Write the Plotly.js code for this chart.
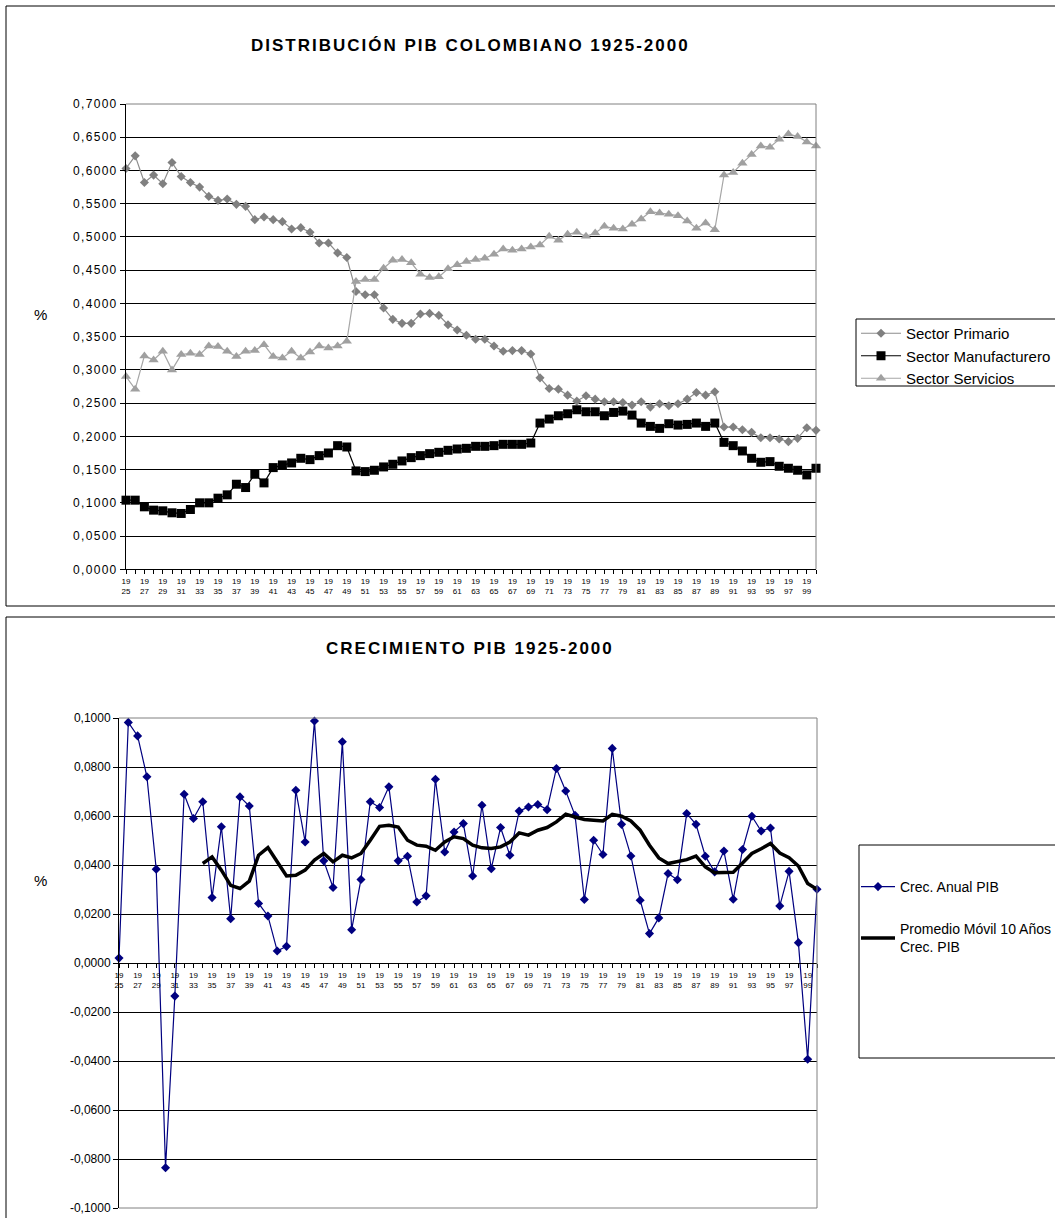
<!DOCTYPE html>
<html><head><meta charset="utf-8">
<script src="https://cdn.plot.ly/plotly-3.0.1.min.js"></script>
<style>
body{margin:0;padding:0;background:#fff;overflow:hidden}
#chart{width:1055px;height:1218px;overflow:hidden}
.ytick text{letter-spacing:1.3px}
</style></head><body><div id="chart"></div>
<script>
const years = [1925,1926,1927,1928,1929,1930,1931,1932,1933,1934,1935,1936,1937,1938,1939,1940,1941,1942,1943,1944,1945,1946,1947,1948,1949,1950,1951,1952,1953,1954,1955,1956,1957,1958,1959,1960,1961,1962,1963,1964,1965,1966,1967,1968,1969,1970,1971,1972,1973,1974,1975,1976,1977,1978,1979,1980,1981,1982,1983,1984,1985,1986,1987,1988,1989,1990,1991,1992,1993,1994,1995,1996,1997,1998,1999,2000];

const sectorPrimario = [0.603,0.622,0.582,0.593,0.580,0.612,0.591,0.582,0.575,0.561,
0.555,0.557,0.549,0.546,0.526,0.530,0.526,0.523,0.512,0.514,
0.507,0.491,0.491,0.476,0.469,0.418,0.413,0.413,0.393,0.376,
0.370,0.370,0.384,0.385,0.382,0.368,0.360,0.352,0.346,0.346,
0.336,0.328,0.329,0.329,0.324,0.288,0.272,0.271,0.262,0.253,
0.261,0.256,0.252,0.252,0.251,0.247,0.252,0.244,0.249,0.246,
0.249,0.256,0.266,0.262,0.267,0.214,0.214,0.210,0.206,0.198,
0.198,0.196,0.192,0.197,0.213,0.209];

const sectorManufacturero = [0.104,0.104,0.094,0.089,0.088,0.085,0.084,0.090,0.100,0.100,
0.107,0.112,0.128,0.123,0.143,0.130,0.153,0.157,0.160,0.167,
0.165,0.171,0.175,0.186,0.184,0.148,0.147,0.149,0.154,0.158,
0.163,0.168,0.171,0.174,0.176,0.179,0.181,0.182,0.185,0.185,
0.186,0.188,0.188,0.188,0.190,0.220,0.226,0.231,0.234,0.240,
0.237,0.237,0.231,0.236,0.238,0.232,0.220,0.215,0.212,0.219,
0.217,0.218,0.220,0.215,0.220,0.191,0.186,0.178,0.167,0.161,
0.162,0.155,0.152,0.149,0.142,0.152];

const sectorServicios = [0.290,0.271,0.321,0.315,0.328,0.300,0.323,0.325,0.323,0.336,
0.335,0.328,0.320,0.328,0.329,0.338,0.320,0.318,0.328,0.318,
0.327,0.336,0.333,0.336,0.343,0.433,0.436,0.436,0.453,0.465,
0.466,0.461,0.444,0.439,0.440,0.452,0.458,0.463,0.466,0.468,
0.474,0.482,0.480,0.482,0.485,0.488,0.501,0.495,0.504,0.507,
0.501,0.506,0.516,0.513,0.512,0.519,0.527,0.538,0.536,0.534,
0.532,0.524,0.513,0.521,0.511,0.593,0.597,0.611,0.624,0.637,
0.635,0.647,0.655,0.651,0.643,0.637];

const crecAnualPIB = [0.0020,0.0982,0.0927,0.0760,0.0383,-0.0836,-0.0135,0.0689,0.0590,0.0658,
0.0267,0.0556,0.0181,0.0678,0.0641,0.0243,0.0192,0.0049,0.0068,0.0705,
0.0494,0.0988,0.0417,0.0308,0.0903,0.0136,0.0341,0.0658,0.0635,0.0719,
0.0417,0.0436,0.0249,0.0274,0.0750,0.0453,0.0535,0.0569,0.0355,0.0644,
0.0385,0.0553,0.0440,0.0620,0.0637,0.0647,0.0626,0.0794,0.0702,0.0603,
0.0259,0.0501,0.0443,0.0876,0.0566,0.0437,0.0256,0.0120,0.0184,0.0365,
0.0340,0.0610,0.0566,0.0436,0.0372,0.0457,0.0260,0.0463,0.0599,0.0539,
0.0551,0.0233,0.0374,0.0083,-0.0393,0.0301];

const promedioMovil10 = [null,null,null,null,null,null,null,null,null,0.0406,
0.0433,0.0379,0.0317,0.0304,0.0334,0.0440,0.0471,0.0413,0.0355,0.0358,
0.0379,0.0420,0.0447,0.0413,0.0440,0.0429,0.0447,0.0501,0.0558,0.0562,
0.0555,0.0501,0.0481,0.0477,0.0460,0.0494,0.0515,0.0508,0.0481,0.0470,
0.0467,0.0474,0.0494,0.0531,0.0522,0.0542,0.0553,0.0576,0.0607,0.0596,
0.0586,0.0583,0.0580,0.0607,0.0599,0.0580,0.0542,0.0481,0.0429,0.0406,
0.0413,0.0422,0.0436,0.0392,0.0368,0.0368,0.0370,0.0408,0.0447,0.0466,
0.0488,0.0449,0.0430,0.0396,0.0324,0.0301];

const yTickValsTop = [0,0.05,0.1,0.15,0.2,0.25,0.3,0.35,0.4,0.45,0.5,0.55,0.6,0.65,0.7];
const yTickTextTop = ["0,0000","0,0500","0,1000","0,1500","0,2000","0,2500","0,3000","0,3500","0,4000","0,4500","0,5000","0,5500","0,6000","0,6500","0,7000"];
const yTickValsBottom = [-0.1,-0.08,-0.06,-0.04,-0.02,0,0.02,0.04,0.06,0.08,0.1];
const yTickTextBottom = ["-0,1000","-0,0800","-0,0600","-0,0400","-0,0200","0,0000","0,0200","0,0400","0,0600","0,0800","0,1000"];
const xTickText = years.map((y,i)=> i%2===0 ? '19<br>'+String(y).slice(2) : '');

const title1 = 'DISTRIBUCIÓN PIB COLOMBIANO 1925-2000';
const title2 = 'CRECIMIENTO PIB 1925-2000';

const W=1055, H=1218;
const px = x => x/W;
const py = y => 1 - y/H;
const FONT = 'Liberation Sans, Arial, sans-serif';

const traces = [
 {x:years, y:sectorPrimario, name:'Sector Primario', type:'scatter', mode:'lines+markers',
  line:{color:'#8c8c8c', width:1.2}, marker:{symbol:'diamond', size:7, color:'#808080'},
  xaxis:'x', yaxis:'y', legend:'legend', cliponaxis:false},
 {x:years, y:sectorManufacturero, name:'Sector Manufacturero', type:'scatter', mode:'lines+markers',
  line:{color:'#000000', width:1.2}, marker:{symbol:'square', size:9, color:'#000000'},
  xaxis:'x', yaxis:'y', legend:'legend', cliponaxis:false},
 {x:years, y:sectorServicios, name:'Sector Servicios', type:'scatter', mode:'lines+markers',
  line:{color:'#a6a6a6', width:1.2}, marker:{symbol:'triangle-up', size:9, color:'#a0a0a0'},
  xaxis:'x', yaxis:'y', legend:'legend', cliponaxis:false},
 {x:years, y:crecAnualPIB, name:'Crec. Anual PIB', type:'scatter', mode:'lines+markers',
  line:{color:'#000080', width:1.2}, marker:{symbol:'diamond', size:7, color:'#000080'},
  xaxis:'x2', yaxis:'y2', legend:'legend2', legendgroup:'g1', cliponaxis:false},
 {x:years, y:promedioMovil10, name:'Promedio Móvil 10 Años<br>Crec. PIB', type:'scatter', mode:'lines',
  line:{color:'#000000', width:3.5}, connectgaps:false,
  xaxis:'x2', yaxis:'y2', legend:'legend2', legendgroup:'g2', cliponaxis:false}
];

const topPlot = {l:126, r:816, t:104, b:569.3};
const botPlot = {l:119, r:817, t:718, b:1208};

const axX = (d)=>({domain:[px(d.l), px(d.r)], range:[1925,2000], tickmode:'array', tickvals:years, ticktext:xTickText,
  ticks:'outside', ticklen:4, tickcolor:'#000', tickwidth:1, showline:true, linecolor:'#000', linewidth:1,
  showgrid:false, zeroline:false, tickfont:{family:FONT, size:8, color:'#000'}, tickangle:0, fixedrange:true, automargin:false});

const layout = {
  width:W, height:H, margin:{l:0,r:0,t:0,b:0,pad:0,autoexpand:false}, paper_bgcolor:'#fff', plot_bgcolor:'#fff',
  separators:',.', showlegend:true, font:{family:FONT, color:'#000'},
  xaxis: Object.assign(axX(topPlot), {anchor:'y'}),
  yaxis: {domain:[py(topPlot.b), py(topPlot.t)], range:[0,0.7], tickmode:'array', tickvals:yTickValsTop, ticktext:yTickTextTop,
    ticks:'outside', ticklen:5, tickcolor:'#000', showline:true, linecolor:'#000', linewidth:1, automargin:false,
    showgrid:true, gridcolor:'#000', gridwidth:1, zeroline:false, tickfont:{family:FONT, size:12, color:'#000'}, anchor:'x'},
  xaxis2: Object.assign(axX(botPlot), {anchor:'free', position: py((botPlot.t+botPlot.b)/2)}),
  yaxis2: {domain:[py(botPlot.b), py(botPlot.t)], range:[-0.1,0.1], tickmode:'array', tickvals:yTickValsBottom, ticktext:yTickTextBottom,
    ticks:'outside', ticklen:5, tickcolor:'#000', showline:true, linecolor:'#000', linewidth:1, automargin:false,
    showgrid:true, gridcolor:'#000', gridwidth:1, zeroline:false, tickfont:{family:FONT, size:12, color:'#000'}, anchor:'x2'},
  legend: {x:px(856), y:py(317), xanchor:'left', yanchor:'top', bgcolor:'rgba(0,0,0,0)', borderwidth:0,
    font:{family:FONT, size:15, color:'#000'}, itemwidth:40, tracegroupgap:0},
  legend2: {x:px(856), y:py(871), xanchor:'left', yanchor:'top', bgcolor:'rgba(0,0,0,0)', borderwidth:0,
    font:{family:FONT, size:14, color:'#000'}, itemwidth:34, traceorder:'grouped', tracegroupgap:21},
  shapes: [
    {type:'rect', xref:'paper', yref:'paper', x0:px(6), x1:px(1060), y0:py(606), y1:py(6), line:{color:'#000', width:1}},
    {type:'rect', xref:'paper', yref:'paper', x0:px(6), x1:px(1060), y0:py(1225), y1:py(617), line:{color:'#000', width:1}},
    {type:'line', xref:'paper', yref:'paper', x0:px(topPlot.l), x1:px(topPlot.r), y0:py(topPlot.t), y1:py(topPlot.t), line:{color:'#808080', width:1}},
    {type:'line', xref:'paper', yref:'paper', x0:px(topPlot.r), x1:px(topPlot.r), y0:py(topPlot.t), y1:py(topPlot.b), line:{color:'#808080', width:1}},
    {type:'line', xref:'paper', yref:'paper', x0:px(botPlot.l), x1:px(botPlot.r), y0:py(botPlot.t), y1:py(botPlot.t), line:{color:'#808080', width:1}},
    {type:'line', xref:'paper', yref:'paper', x0:px(botPlot.r), x1:px(botPlot.r), y0:py(botPlot.t), y1:py(botPlot.b), line:{color:'#808080', width:1}},
    {type:'line', xref:'paper', yref:'paper', x0:px(botPlot.l), x1:px(botPlot.r), y0:py(botPlot.b), y1:py(botPlot.b), line:{color:'#808080', width:1}},
    {type:'rect', xref:'paper', yref:'paper', x0:px(856), x1:px(1060), y0:py(386), y1:py(319), line:{color:'#000', width:1}},
    {type:'rect', xref:'paper', yref:'paper', x0:px(859), x1:px(1060), y0:py(1058), y1:py(845), line:{color:'#000', width:1}}
  ],
  annotations: [
    {text:'<b>'+title1+'</b>', xref:'paper', yref:'paper', x:px(470), y:py(45), xanchor:'center', yanchor:'middle', showarrow:false,
     font:{family:FONT, size:17, color:'#000'}},
    {text:'<b>'+title2+'</b>', xref:'paper', yref:'paper', x:px(470), y:py(648), xanchor:'center', yanchor:'middle', showarrow:false,
     font:{family:FONT, size:17, color:'#000'}},
    {text:'%', xref:'paper', yref:'paper', x:px(40), y:py(315), xanchor:'center', yanchor:'middle', showarrow:false,
     font:{family:FONT, size:15, color:'#000'}},
    {text:'%', xref:'paper', yref:'paper', x:px(40), y:py(880), xanchor:'center', yanchor:'middle', showarrow:false,
     font:{family:FONT, size:15, color:'#000'}}
  ]
};

Plotly.newPlot('chart', traces, layout, {staticPlot:true, displayModeBar:false}).then(()=>{
  document.querySelectorAll('.annotation-text').forEach((t,i)=>{ if(i<2) t.style.letterSpacing='2px'; });
});
</script>
</body></html>
